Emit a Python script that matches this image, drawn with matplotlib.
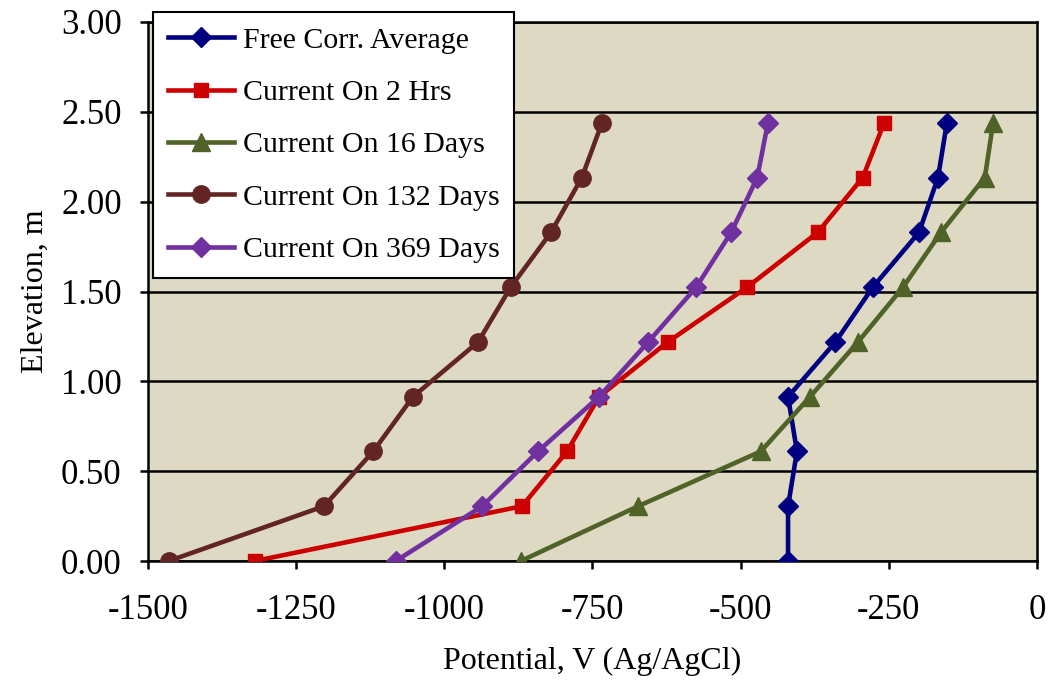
import numpy as np
import matplotlib
matplotlib.use('Agg')
import matplotlib.pyplot as plt
from matplotlib.ticker import FormatStrFormatter

# elevation of each reading (m), same for all series
elevation = [0.0, 0.305, 0.61, 0.914, 1.219, 1.524, 1.829, 2.134, 2.438]

# potential readings, mV vs Ag/AgCl
free_corr = [-420, -420, -405, -420, -340, -277, -199, -167, -152]
on_2hrs = [-1320, -869, -793, -739, -623, -489, -370, -294, -258]
on_16days = [-871, -673, -466, -383, -302, -226, -162, -88, -74]
on_132days = [-1465, -1203, -1120, -1053, -943, -888, -820, -768, -734]
on_369days = [-1082, -936, -842, -739, -656, -575, -516, -472, -454]

labels = ['Free Corr. Average', 'Current On 2 Hrs', 'Current On 16 Days',
          'Current On 132 Days', 'Current On 369 Days']

plt.rcParams['font.family'] = ['Liberation Serif', 'DejaVu Serif']
plt.rcParams['axes.unicode_minus'] = False

fig = plt.figure(figsize=(10.52, 6.83), dpi=100)
ax = fig.add_axes([0.1407, 0.1786, 0.8450, 0.7892])
ax.set_facecolor('#DDD9C3')

series = [
    (free_corr, '#000080', 'D', 10.5),
    (on_2hrs, '#CC0000', 's', 10.5),
    (on_16days, '#4F6228', '^', 12.5),
    (on_132days, '#632523', 'o', 12.5),
    (on_369days, '#7030A0', 'D', 10.5),
]
for (vals, col, mk, ms), lab in zip(series, labels):
    ax.plot(vals, elevation, color=col, marker=mk, markersize=ms,
            linewidth=3.3, label=lab, zorder=3)

ax.set_xlim(-1500, 0)
ax.set_ylim(0, 3)
ax.set_xticks(np.arange(-1500, 1, 250))
ax.set_yticks(np.arange(0, 3.01, 0.5))
ax.yaxis.set_major_formatter(FormatStrFormatter('%.2f'))
ax.grid(axis='y', color='black', linewidth=1.8, zorder=1)
ax.set_axisbelow(True)
ax.tick_params(axis='both', labelsize=25, direction='out', length=6, width=1.8)
ax.tick_params(axis='y', pad=13)
ax.tick_params(axis='x', pad=18)
for s in ax.spines.values():
    s.set_linewidth(1.8)

ax.set_xlabel('Potential, V (Ag/AgCl)', fontsize=23, labelpad=14)
ax.set_ylabel('Elevation, m', fontsize=23, labelpad=8)

leg = ax.legend(loc='upper left', bbox_to_anchor=(153 / 1052, 1 - 12 / 683),
                bbox_transform=fig.transFigure, borderaxespad=0, fontsize=21.5,
                fancybox=False, framealpha=1, edgecolor='black',
                handlelength=2.2, labelspacing=0.85, handletextpad=0.3,
                borderpad=0.5)
leg.get_frame().set_linewidth(1.5)
leg.set_zorder(5)

fig.savefig('out.png', dpi=100)
